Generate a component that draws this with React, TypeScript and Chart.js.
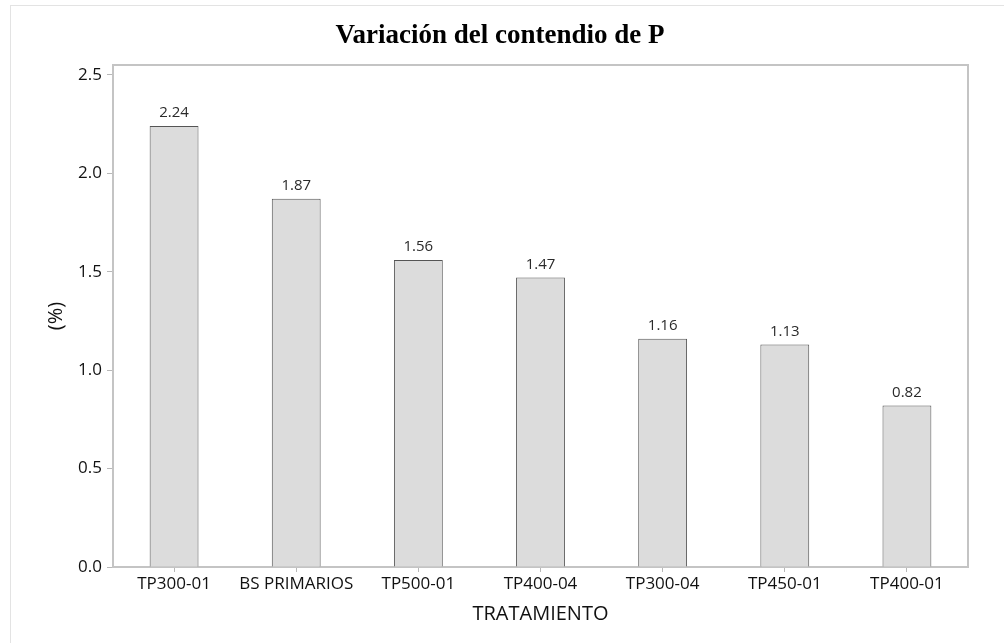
import React, { useEffect, useRef } from "react";
import { Chart, registerables } from "chart.js";

Chart.register(...registerables);

const categories = ["TP300-01", "BS PRIMARIOS", "TP500-01", "TP400-04", "TP300-04", "TP450-01", "TP400-01"];
const values = [2.24, 1.87, 1.56, 1.47, 1.16, 1.13, 0.82];
const yTicks = [0, 0.5, 1.0, 1.5, 2.0, 2.5];
const chartTitle = "Variación del contendio de P";
const xTitle = "TRATAMIENTO";
const yTitle = "(%)";

const SANS = '"Open Sans", "Noto Sans", sans-serif';

const frameAndLabels = {
  id: "frameAndLabels",
  afterDatasetsDraw(chart: any) {
    const { ctx, chartArea } = chart;
    ctx.save();
    ctx.strokeStyle = "#c4c4c4";
    ctx.lineWidth = 2;
    ctx.beginPath();
    ctx.moveTo(chartArea.left, chartArea.top);
    ctx.lineTo(chartArea.right, chartArea.top);
    ctx.lineTo(chartArea.right, chartArea.bottom);
    ctx.stroke();
    const meta = chart.getDatasetMeta(0);
    ctx.font = `15px ${SANS}`;
    ctx.fillStyle = "#2a2a2a";
    ctx.textAlign = "center";
    ctx.textBaseline = "alphabetic";
    meta.data.forEach((bar: any, i: number) => {
      ctx.fillText(values[i].toFixed(2), bar.x, bar.y - 9);
    });
    ctx.font = 'bold 27px "Liberation Serif", "Times New Roman", serif';
    ctx.fillStyle = "#000000";
    ctx.textBaseline = "middle";
    ctx.fillText(chartTitle, 500, 36);
    ctx.restore();
  },
};

export default function App() {
  const ref = useRef<HTMLCanvasElement | null>(null);

  useEffect(() => {
    if (!ref.current) return;
    const chart = new Chart(ref.current, {
      type: "bar",
      data: {
        labels: categories,
        datasets: [
          {
            data: values,
            backgroundColor: "#dcdcdc",
            borderColor: "#555555",
            borderWidth: 1,
            barPercentage: 0.4,
            categoryPercentage: 1.0,
          },
        ],
      },
      options: {
        animation: false,
        responsive: false,
        layout: { padding: { left: 0, right: 36, top: 65, bottom: 0 } },
        plugins: {
          legend: { display: false },
          tooltip: { enabled: false },
          title: { display: false },
        },
        scales: {
          x: {
            grid: {
              display: true,
              offset: false,
              drawOnChartArea: false,
              drawTicks: true,
              tickLength: 5,
              color: "#b8b8b8",
            },
            border: { display: true, color: "#c4c4c4", width: 2 },
            ticks: { color: "#111111", font: { family: SANS, size: 17 }, padding: 2, maxRotation: 0, autoSkip: false },
            title: {
              display: true,
              text: xTitle,
              color: "#111111",
              font: { family: SANS, size: 20 },
              padding: { top: 0, bottom: 17 },
            },
            afterFit: (s: any) => {
              s.height = 76;
            },
          },
          y: {
            min: 0,
            max: 2.55,
            grid: {
              display: true,
              drawOnChartArea: false,
              drawTicks: true,
              tickLength: 6,
              color: "#b8b8b8",
            },
            border: { display: true, color: "#c4c4c4", width: 2 },
            afterBuildTicks: (s: any) => {
              s.ticks = yTicks.map((v) => ({ value: v }));
            },
            ticks: {
              color: "#111111",
              font: { family: SANS, size: 17 },
              padding: 5,
              callback: (v: any) => Number(v).toFixed(1),
            },
            title: {
              display: true,
              text: yTitle,
              color: "#111111",
              font: { family: SANS, size: 20 },
              padding: { top: 44, bottom: 0 },
            },
            afterFit: (s: any) => {
              s.width = 113;
            },
          },
        },
      },
      plugins: [frameAndLabels],
    });
    return () => chart.destroy();
  }, []);

  return (
    <div style={{ position: "absolute", left: 0, top: 0, width: 1004, height: 643, background: "#ffffff" }}>
      <div
        style={{
          position: "absolute",
          left: 10,
          top: 5,
          right: 0,
          bottom: 0,
          borderTop: "1px solid #e3e3e3",
          borderLeft: "1px solid #e3e3e3",
        }}
      />
      <canvas ref={ref} width={1004} height={643} style={{ position: "absolute", left: 0, top: 0 }} />
    </div>
  );
}
